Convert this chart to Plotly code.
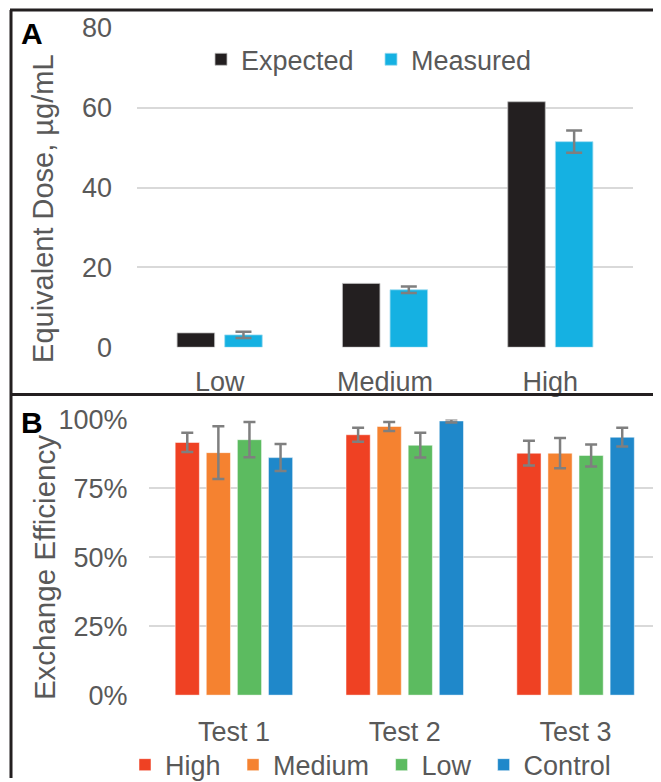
import plotly.graph_objects as go

# ---------------- data ----------------
cats_a = ["Low", "Medium", "High"]
expected = [3.6, 16.0, 61.5]
measured = [3.1, 14.4, 51.5]
measured_err = [0.8, 0.8, 2.8]

tests = ["Test 1", "Test 2", "Test 3"]
high = [0.917, 0.945, 0.878]
high_err = [0.035, 0.025, 0.045]
medium = [0.880, 0.975, 0.878]
medium_err = [0.096, 0.016, 0.055]
low = [0.927, 0.907, 0.870]
low_err = [0.064, 0.045, 0.040]
control = [0.862, 0.995, 0.936]
control_err = [0.049, 0.006, 0.034]

y_ticks_a = [0, 20, 40, 60, 80]
y_ticks_b = [0, 0.25, 0.5, 0.75, 1.0]
y_ticklabels_b = ["0%", "25%", "50%", "75%", "100%"]

# ---------------- styling ----------------
W, H = 661, 782
OFF = 8  # page body margin
FONT = "Liberation Sans, Arial, sans-serif"
GRAY = "#595959"
GRID = "#d9d9d9"
ERR = "#7f7f7f"
EDGE = "#231F20"
NB = "\u00a0"


def px_x(p):
    return (p - OFF) / W


def px_y(p):
    return 1 - (p - OFF) / H


fig = go.Figure()

# Panel A: bar slot geometry (category units)
SLOT_A, BW_A = 0.288, 0.227
series_a = [("Expected", expected, None, "#231F20", "rgba(190,190,190,0.8)"),
            ("Measured", measured, measured_err, "#15B1E2", "rgba(160,220,240,0.8)")]
for i, (name, vals, errs, col, lc) in enumerate(series_a):
    center = (i - 0.5) * SLOT_A
    kw = {}
    if errs is not None:
        kw["error_y"] = dict(type="data", array=errs, color=ERR, thickness=2.5, width=8)
    fig.add_trace(go.Bar(x=cats_a, y=vals, name=name,
                         width=BW_A, offset=center - BW_A / 2,
                         marker=dict(color=col, line=dict(color=lc, width=1)),
                         xaxis="x", yaxis="y", legend="legend", **kw))

# Panel B
SLOT_B, BW_B = 0.182, 0.1417
series_b = [("High", high, high_err, "#EF4123"),
            ("Medium", medium, medium_err, "#F58230"),
            ("Low", low, low_err, "#5CBB60"),
            ("Control", control, control_err, "#1F88CA")]
for i, (name, vals, errs, col) in enumerate(series_b):
    center = (i - 1.5) * SLOT_B
    fig.add_trace(go.Bar(x=tests, y=vals, name=name + NB,
                         width=BW_B, offset=center - BW_B / 2,
                         marker=dict(color=col, line=dict(color="rgba(255,255,255,0.5)", width=1)),
                         error_y=dict(type="data", array=errs, color=ERR, thickness=2.5, width=6),
                         xaxis="x2", yaxis="y2", legend="legend2"))

axis_common = dict(showline=False, zeroline=False, ticks="", automargin=False,
                   tickfont=dict(family=FONT, size=27, color=GRAY),
                   fixedrange=True)

fig.update_layout(
    template="none",
    width=W, height=H,
    margin=dict(l=0, r=0, t=0, b=0, pad=0),
    paper_bgcolor="white", plot_bgcolor="white",
    font=dict(family=FONT, color=GRAY),
    barmode="group",
    xaxis=dict(domain=[px_x(137), px_x(633)], anchor="y", showgrid=False,
               ticklabelstandoff=16, **axis_common),
    yaxis=dict(domain=[px_y(349), px_y(28)], anchor="x", range=[0, 80],
               tickvals=y_ticks_a, showgrid=True, gridcolor=GRID, gridwidth=2,
               ticklabelstandoff=24, **axis_common),
    xaxis2=dict(domain=[px_x(148.5), px_x(661)], anchor="y2", showgrid=False,
                ticklabelstandoff=18, **axis_common),
    yaxis2=dict(domain=[px_y(698.7), px_y(421.7)], anchor="x2", range=[0, 1.0],
                tickvals=y_ticks_b, ticktext=y_ticklabels_b,
                showgrid=True, gridcolor=GRID, gridwidth=2,
                ticklabelstandoff=20, **axis_common),
    legend=dict(orientation="h", x=px_x(201), xanchor="left", y=px_y(60), yanchor="middle",
                font=dict(family=FONT, size=27, color=GRAY), bgcolor="rgba(0,0,0,0)",
                traceorder="normal", entrywidth=125, entrywidthmode="pixels"),
    legend2=dict(orientation="h", x=px_x(125), xanchor="left", y=px_y(769), yanchor="middle",
                 font=dict(family=FONT, size=27, color=GRAY), bgcolor="rgba(0,0,0,0)",
                 traceorder="normal"),
    showlegend=True,
)

# y-axis titles and panel letters
fig.add_annotation(text="Equivalent Dose, µg/mL", x=px_x(43), y=px_y(210), xref="paper", yref="paper",
                   textangle=-90, showarrow=False, font=dict(family=FONT, size=29, color=GRAY),
                   xanchor="center", yanchor="middle")
fig.add_annotation(text="Exchange Efficiency", x=px_x(44), y=px_y(571), xref="paper", yref="paper",
                   textangle=-90, showarrow=False, font=dict(family=FONT, size=29.5, color=GRAY),
                   xanchor="center", yanchor="middle")
fig.add_annotation(text="<b>A</b>", x=px_x(32), y=px_y(34), xref="paper", yref="paper",
                   showarrow=False, font=dict(family=FONT, size=30, color="#000000"),
                   xanchor="center", yanchor="middle")
fig.add_annotation(text="<b>B</b>", x=px_x(32), y=px_y(425), xref="paper", yref="paper",
                   showarrow=False, font=dict(family=FONT, size=30, color="#000000"),
                   xanchor="center", yanchor="middle")

# panel borders
for x0, y0, x1, y1 in [(10, 10, 661, 10), (11, 10, 11, 782), (10, 396.5, 661, 396.5)]:
    fig.add_shape(type="line", xref="paper", yref="paper",
                  x0=px_x(x0), y0=px_y(y0), x1=px_x(x1), y1=px_y(y1),
                  line=dict(color=EDGE, width=3))

fig.write_html("out.html")
